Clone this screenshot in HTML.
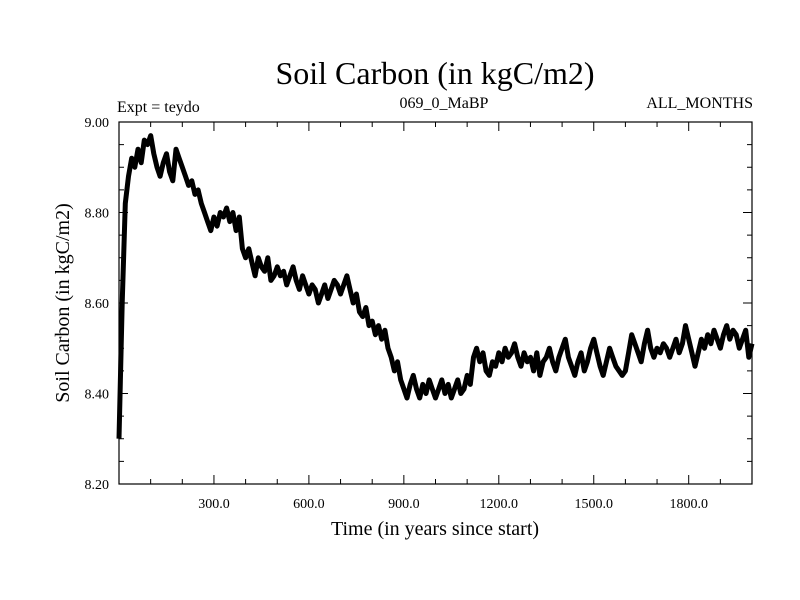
<!DOCTYPE html>
<html><head><meta charset="utf-8"><style>
body{margin:0;background:#fff}
svg{display:block;font-family:"Liberation Serif",serif}
</style></head><body>
<svg width="800" height="600">
<text x="435" y="84" font-size="32" text-anchor="middle">Soil Carbon (in kgC/m2)</text>
<text x="117" y="112" font-size="16">Expt = teydo</text>
<text x="444" y="108" font-size="16" text-anchor="middle">069_0_MaBP</text>
<text x="753" y="108" font-size="16" text-anchor="end">ALL_MONTHS</text>
<text transform="translate(69,303) rotate(-90)" font-size="20" text-anchor="middle">Soil Carbon (in kgC/m2)</text>
<text x="435" y="535" font-size="20" text-anchor="middle">Time (in years since start)</text>
<g id="axes"></g>
<path id="line" fill="none" stroke="#000" stroke-width="5" stroke-linejoin="round"/>
</svg>
<script>
const values=[8.30,8.60,8.82,8.88,8.92,8.90,8.94,8.91,8.96,8.95,8.97,8.93,8.90,8.88,8.91,8.93,8.89,8.87,8.94,8.92,8.90,8.88,8.86,8.87,8.84,8.85,8.82,8.80,8.78,8.76,8.79,8.77,8.80,8.79,8.81,8.78,8.80,8.76,8.79,8.72,8.70,8.72,8.69,8.66,8.70,8.68,8.67,8.70,8.65,8.66,8.68,8.66,8.67,8.64,8.66,8.68,8.65,8.63,8.66,8.64,8.62,8.64,8.63,8.60,8.62,8.64,8.61,8.63,8.65,8.64,8.62,8.64,8.66,8.63,8.60,8.62,8.58,8.57,8.59,8.55,8.56,8.53,8.55,8.52,8.54,8.50,8.48,8.45,8.47,8.43,8.41,8.39,8.42,8.44,8.41,8.39,8.42,8.40,8.43,8.41,8.39,8.41,8.43,8.40,8.42,8.39,8.41,8.43,8.40,8.41,8.44,8.42,8.48,8.50,8.47,8.49,8.45,8.44,8.47,8.46,8.49,8.47,8.50,8.48,8.49,8.51,8.48,8.46,8.49,8.47,8.48,8.45,8.49,8.44,8.47,8.48,8.50,8.47,8.45,8.48,8.50,8.52,8.48,8.46,8.44,8.47,8.49,8.45,8.47,8.50,8.52,8.49,8.46,8.44,8.47,8.50,8.48,8.46,8.45,8.44,8.45,8.49,8.53,8.51,8.49,8.47,8.51,8.54,8.50,8.48,8.50,8.49,8.51,8.50,8.48,8.50,8.52,8.49,8.51,8.55,8.52,8.49,8.46,8.49,8.52,8.50,8.53,8.51,8.54,8.52,8.50,8.53,8.55,8.52,8.54,8.53,8.50,8.52,8.54,8.48,8.51];
const yearStep=10;
const xTicks=[300,600,900,1200,1500,1800];
const xTickLabels=["300.0","600.0","900.0","1200.0","1500.0","1800.0"];
const yTicks=[8.2,8.4,8.6,8.8,9.0];
const yTickLabels=["8.20","8.40","8.60","8.80","9.00"];
const L=119,R=752,T=122,B=484,X0=0,X1=2000,Y0=8.2,Y1=9.0;
const sx=v=>L+(v-X0)/(X1-X0)*(R-L);
const sy=v=>B-(v-Y0)/(Y1-Y0)*(B-T);
const NS="http://www.w3.org/2000/svg";
const g=document.getElementById('axes');
function mk(tag,attrs,txt){const e=document.createElementNS(NS,tag);for(const k in attrs)e.setAttribute(k,attrs[k]);if(txt!==undefined)e.textContent=txt;g.appendChild(e);return e;}
const frame=mk('rect',{x:L,y:T,width:R-L,height:B-T,fill:'none',stroke:'#000','stroke-width':1.2});


for(let v=100;v<X1;v+=100){const major=v%300===0;const len=major?9:5;
 const t1=mk('line',{x1:sx(v),x2:sx(v),y1:B,y2:B-len,stroke:'#000'});
 
 
 const t2=mk('line',{x1:sx(v),x2:sx(v),y1:T,y2:T+len,stroke:'#000'});
 
 }
xTicks.forEach((v,i)=>{const t=mk('text',{x:sx(v),y:B+24,'font-size':14,'text-anchor':'middle'},xTickLabels[i]);
 
 });
for(let k=1;k<16;k++){const v=Y0+k*0.05;const major=k%4===0;const len=major?9:5;
 const t1=mk('line',{x1:L,x2:L+len,y1:sy(v),y2:sy(v),stroke:'#000'});
 
 
 const t2=mk('line',{x1:R,x2:R-len,y1:sy(v),y2:sy(v),stroke:'#000'});
 
 }
yTicks.forEach((v,i)=>{const t=mk('text',{x:L-10,y:sy(v)+5,'font-size':14,'text-anchor':'end'},yTickLabels[i]);
 
 });
let d='';values.forEach((v,i)=>{d+=(i?'L':'M')+sx(i*yearStep).toFixed(1)+','+sy(v).toFixed(1);});
document.getElementById('line').setAttribute('d',d);
</script>
</body></html>
